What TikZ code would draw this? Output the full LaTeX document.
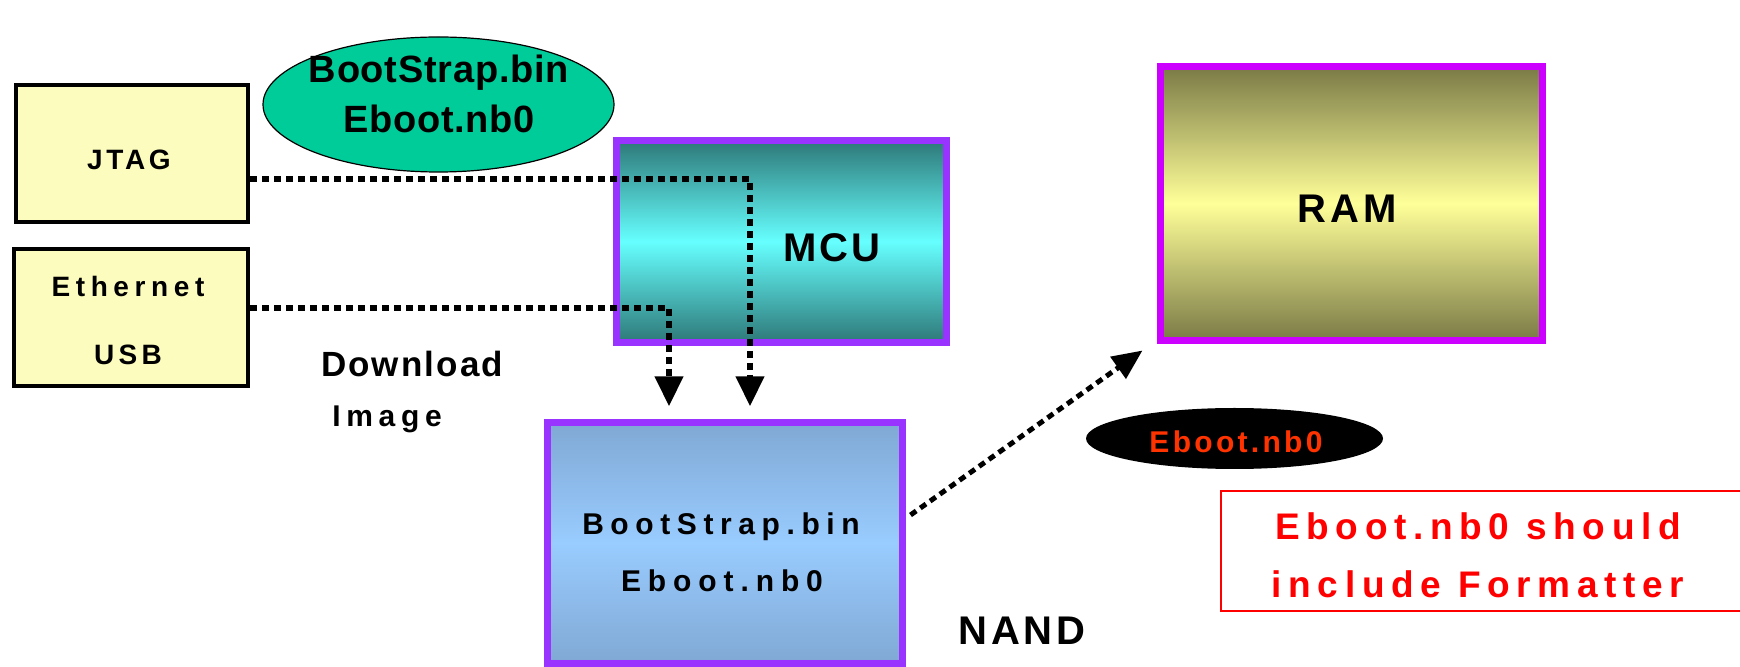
\documentclass[tikz,border=0pt]{standalone}
\usepackage{fontspec}
\setmainfont{Liberation Sans}
\usetikzlibrary{arrows.meta,shapes.geometric,calc}
\definecolor{ylw}{HTML}{FCFCBE}
\definecolor{grn}{HTML}{00CC99}
\definecolor{purp}{HTML}{9933FF}
\definecolor{mag}{HTML}{CC00FF}
\definecolor{tealdark}{HTML}{2E7878}
\definecolor{tealmid}{HTML}{66FFFF}
\definecolor{bluedark}{HTML}{80A8D4}
\definecolor{bluemid}{HTML}{99CCFF}
\definecolor{olivedark}{HTML}{7A7A46}
\definecolor{olivemid}{HTML}{FFFF99}
\definecolor{orng}{HTML}{FF3300}
\newcommand\fnt[2]{\fontsize{#1}{#1}\selectfont\bfseries\addfontfeature{LetterSpace=#2}}
\begin{document}
\begin{tikzpicture}[x=0.5pt,y=-0.5pt,
  ybox/.style={draw=black,line width=2pt,fill=ylw,rectangle,inner sep=0pt},
  chip/.style={rectangle,line width=3.5pt,inner sep=0pt},
  lbl/.style={inner sep=0pt,anchor=base},
  dotline/.style={line width=3.4pt,dash pattern=on 3.5pt off 2.5pt,
    -{Triangle[width=13.5pt,length=15pt]}},
  diagline/.style={line width=2.5pt,dash pattern=on 3.5pt off 2.5pt,
    -{Triangle[width=13pt,length=15pt]}}]
\useasboundingbox (0,0) rectangle (1740,667);

% boxes
\node[ybox,minimum width=116pt,minimum height=68.5pt] (jtag) at (132,153.5) {};
\node[ybox,minimum width=117pt,minimum height=68.5pt] (eth) at (131,317.5) {};
\node[ellipse,draw=black,line width=0.6pt,fill=grn,minimum width=175.5pt,minimum height=67.5pt,inner sep=0pt] (img) at (438.5,104.5) {};
\node[chip,draw=purp,top color=tealdark,bottom color=tealdark,middle color=tealmid,minimum width=165pt,minimum height=101pt] (mcu) at (781.5,241.5) {};
\node[chip,draw=purp,top color=bluedark,bottom color=bluedark,middle color=bluemid,minimum width=177.5pt,minimum height=120.5pt] (nand) at (725,543) {};
\node[chip,draw=mag,top color=olivedark,bottom color=olivedark,middle color=olivemid,minimum width=191pt,minimum height=137pt] (ram) at (1351.5,203.5) {};
\node[ellipse,fill=black,minimum width=148.5pt,minimum height=30.5pt,inner sep=0pt] (tag) at (1234.5,438.5) {};
\node[minimum width=259.5pt,minimum height=59.5pt,inner sep=0pt] (note) at (1480.5,551) {};
\draw[red,line width=1pt] (note.north east) -- (note.north west) -- (note.south west) -- (note.south east);

% texts
\node[lbl,font=\fnt{14pt}{13}] (tjtag) at (129,170) {JTAG};
\node[lbl,font=\fnt{14pt}{20}] (teth) at (128,297) {Ethernet};
\node[lbl,font=\fnt{14pt}{15}] (tusb) at (128,365) {USB};
\node[lbl,font=\fnt{19pt}{2}] (timg1) at (439,83) {BootStrap.bin};
\node[lbl,font=\fnt{19pt}{2}] (timg2) at (439,133) {Eboot.nb0};
\node[lbl,font=\fnt{17.5pt}{6}] (tdl) at (412,377) {Download};
\node[lbl,font=\fnt{15pt}{19}] (timage) at (387,427) {Image};
\node[lbl,font=\fnt{20pt}{8}] (tmcu) at (832,262) {MCU};
\node[lbl,font=\fnt{20pt}{10}] (tram) at (1347,223) {RAM};
\node[lbl,font=\fnt{15pt}{22}] (tn1) at (721,535) {BootStrap.bin};
\node[lbl,font=\fnt{15pt}{23}] (tn2) at (722,592) {Eboot.nb0};
\node[lbl,font=\fnt{20pt}{9}] (tnand) at (1022,645) {NAND};
\node[lbl,font=\fnt{15pt}{11},text=orng] (ttag) at (1236,453) {Eboot.nb0};
\node[lbl,font=\fnt{18.5pt}{18},text=red] (tnote1) at (1478,540) {Eboot.nb0 should};
\node[lbl,font=\fnt{18.5pt}{18},text=red] (tnote2) at (1478,597) {include Formatter};

% connectors
\draw[dotline] ($(jtag.east)+(0,25.5)$) -| ($(nand.north)+(25,-12.5)$);
\draw[dotline] ($(eth.east)+(0,-9.5)$) -| ($(nand.north)+(-56,-12.5)$);
\draw[diagline] ($(nand.east)+(4.5,-28)$) -- ($(ram.south west)+(-14.5,6.5)$);
\end{tikzpicture}
\end{document}
